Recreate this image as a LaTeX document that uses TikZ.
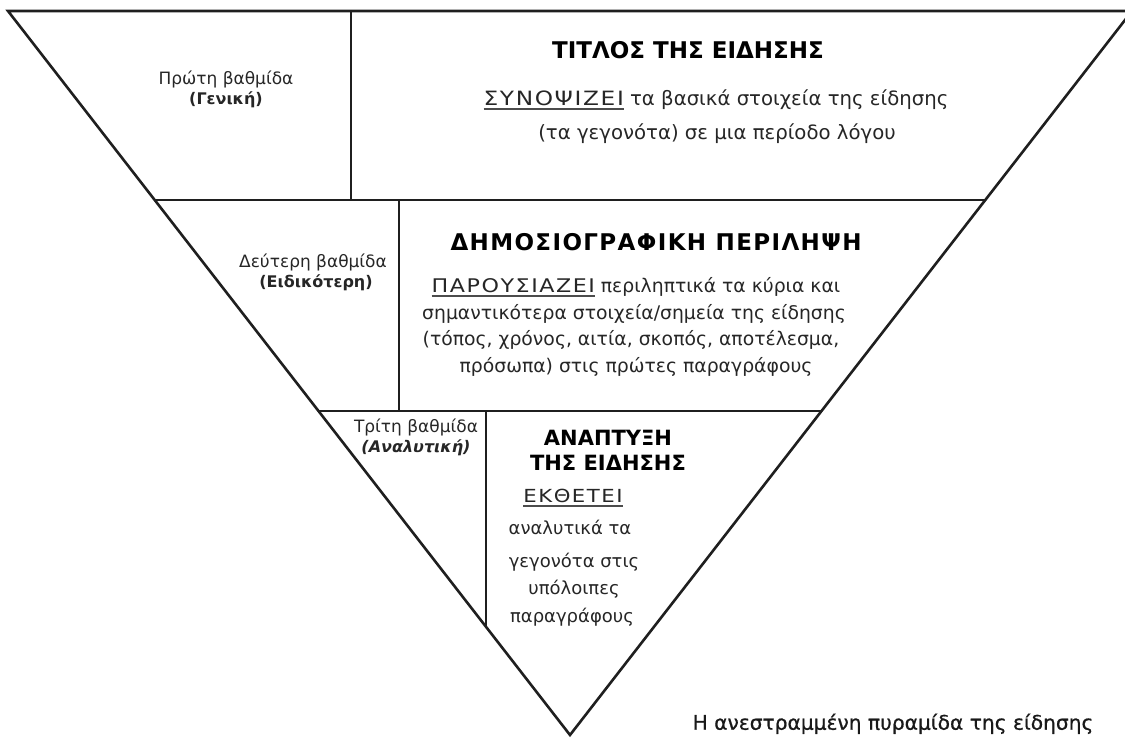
\documentclass[tikz,border=0pt]{standalone}
\usepackage{fontspec}
\usepackage{graphicx}
\setmainfont{DejaVu Sans}
\newcommand\ulw[1]{\setbox0\hbox{\scalebox{1.18}[1]{\addfontfeatures{LetterSpace=7}#1}}\rlap{\color{black!70}\rule[-4pt]{\wd0}{1.7pt}}\box0\relax}
\tikzset{
  edge/.style={line width=2.6pt, line join=miter, draw=black!88},
  body/.style={text=black!85, inner sep=0pt, anchor=mid},
  bodyA/.style={body, font=\fontsize{19.7}{22}\selectfont},
  bodyB/.style={body, font=\fontsize{18.8}{22}\selectfont},
  bodyC/.style={body, font=\fontsize{18}{22}\selectfont},
  level/.style={font=\fontsize{17}{18}\selectfont, text=black!85, inner sep=0pt, anchor=mid},
  levelbold/.style={font=\fontsize{16}{18}\selectfont\bfseries, text=black!85, inner sep=0pt, anchor=mid},
  head/.style={text=black, inner sep=0pt, anchor=center},
  caption/.style={font=\fontsize{20.2}{22}\selectfont\addfontfeatures{FakeBold=0.8}, text=black!90, inner sep=0pt, anchor=mid}
}
\begin{document}
\begin{tikzpicture}[x=1pt,y=-1pt]
\useasboundingbox (0,0) rectangle (1125,737);
\clip (0,0) rectangle (1125,737);
% outline
\coordinate (TL) at (8,11);
\coordinate (TR) at (1132,11);
\coordinate (AP) at (570,735);
\coordinate (H1L) at (154.7,200);
\coordinate (H1R) at (985.3,200);
\coordinate (H2L) at (318.5,411);
\coordinate (H2R) at (821.5,411);
\coordinate (V1T) at (351,11);
\coordinate (V1B) at (351,200);
\coordinate (V2T) at (399,200);
\coordinate (V2B) at (399,411);
\coordinate (V3T) at (486,411);
\coordinate (V3B) at (486,627);
\draw[edge] (TL) -- (TR) -- (AP) -- cycle;
\draw[edge] (H1L) -- (H1R);
\draw[edge] (H2L) -- (H2R);
\draw[edge] (V1T) -- (V1B);
\draw[edge] (V2T) -- (V2B);
\draw[edge] (V3T) -- (V3B);
% level labels
\node[level] (l1a) at (226,82) {Πρώτη βαθμίδα};
\node[levelbold] (l1b) at (226,102) {(Γενική)};
\node[level] (l2a) at (313,265) {Δεύτερη βαθμίδα};
\node[levelbold] (l2b) at (316,285) {(Ειδικότερη)};
\node[level] (l3a) at (416,430) {Τρίτη βαθμίδα};
\node[levelbold] (l3b) at (416,450) {\itshape (Αναλυτική)};
% block 1
\node[head, font=\fontsize{23}{26}\selectfont\bfseries] (h1) at (688,50) {ΤΙΤΛΟΣ ΤΗΣ ΕΙΔΗΣΗΣ};
\node[bodyA] (b1a) at (716,103) {\ulw{ΣΥΝΟΨΙΖΕΙ} τα βασικά στοιχεία της είδησης};
\node[bodyA] (b1b) at (717,137) {(τα γεγονότα) σε μια περίοδο λόγου};
% block 2
\node[head, font=\fontsize{23}{26}\selectfont\bfseries\addfontfeatures{LetterSpace=6}] (h2) at (656,242) {ΔΗΜΟΣΙΟΓΡΑΦΙΚΗ ΠΕΡΙΛΗΨΗ};
\node[bodyB] (b2a) at (636,290) {\ulw{ΠΑΡΟΥΣΙΑΖΕΙ} περιληπτικά τα κύρια και};
\node[bodyB] (b2b) at (634,317) {σημαντικότερα στοιχεία/σημεία της είδησης};
\node[bodyB] (b2c) at (631,343) {(τόπος, χρόνος, αιτία, σκοπός, αποτέλεσμα,};
\node[bodyB] (b2d) at (636,370) {πρόσωπα) στις πρώτες παραγράφους};
% block 3
\node[head, font=\fontsize{21}{24}\selectfont\bfseries] (h3a) at (608,438) {ΑΝΑΠΤΥΞΗ};
\node[head, font=\fontsize{21}{24}\selectfont\bfseries] (h3b) at (608,463) {ΤΗΣ ΕΙΔΗΣΗΣ};
\node[bodyC] (b3a) at (573,500) {\ulw{ΕΚΘΕΤΕΙ}};
\node[bodyC] (b3b) at (570,532) {αναλυτικά τα};
\node[bodyC] (b3c) at (574,565) {γεγονότα στις};
\node[bodyC] (b3d) at (574,592) {υπόλοιπες};
\node[bodyC] (b3e) at (572,620) {παραγράφους};
% caption
\node[caption] (cap) at (893,727) {Η ανεστραμμένη πυραμίδα της είδησης};
\end{tikzpicture}
\end{document}
